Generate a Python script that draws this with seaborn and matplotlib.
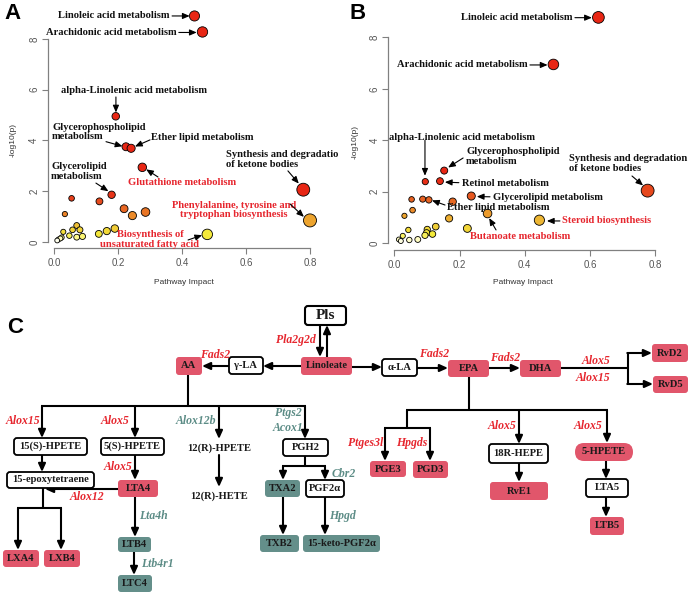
import numpy as np
import pandas as pd
import matplotlib
matplotlib.use("Agg")
import matplotlib.pyplot as plt
import seaborn as sns
from matplotlib.colors import LinearSegmentedColormap
from matplotlib.patches import FancyBboxPatch

# ---------------- data ----------------
A_impact = [0.439, 0.464, 0.193, 0.225, 0.241, 0.276, 0.779, 0.800, 0.479, 0.180,
            0.055, 0.142, 0.219, 0.286, 0.245, 0.034, 0.190, 0.165, 0.140, 0.071,
            0.081, 0.058, 0.048, 0.071, 0.089, 0.029, 0.024, 0.014, 0.020, 0.010]
A_logp = [8.90, 8.27, 4.95, 3.75, 3.69, 2.94, 2.06, 0.85, 0.30, 1.86,
          1.72, 1.60, 1.31, 1.18, 1.04, 1.10, 0.53, 0.43, 0.32, 0.65,
          0.48, 0.48, 0.25, 0.19, 0.22, 0.40, 0.18, 0.10, 0.14, 0.06]

B_impact = [0.626, 0.488, 0.777, 0.153, 0.095, 0.140, 0.236, 0.106, 0.087, 0.179,
            0.053, 0.056, 0.031, 0.286, 0.445, 0.168, 0.224, 0.127, 0.101, 0.099,
            0.117, 0.094, 0.043, 0.026, 0.014, 0.046, 0.072, 0.020]
B_logp = [8.78, 6.95, 2.04, 2.82, 2.39, 2.41, 1.83, 1.68, 1.71, 1.61,
          1.70, 1.28, 1.06, 1.15, 0.89, 0.96, 0.57, 0.64, 0.53, 0.40,
          0.35, 0.30, 0.51, 0.28, 0.14, 0.12, 0.14, 0.08]

x_ticks = [0.0, 0.2, 0.4, 0.6, 0.8]
x_ticklabels = ["0.0", "0.2", "0.4", "0.6", "0.8"]
y_ticks = [0, 2, 4, 6, 8]
y_ticklabels = ["0", "2", "4", "6", "8"]

RED_T = "#E6262E"
TEAL_T = "#5C8C86"
RED_BOX = "#E1566B"
TEAL_BOX = "#648F8A"

# annotations: label, text xy, ha, color, arrow start, arrow end (data coords)
A_notes = [
    ("Linoleic acid metabolism", (0.3625, 8.90), "right", "k", (0.369, 8.90), (0.424, 8.90)),
    ("Arachidonic acid metabolism", (0.384, 8.25), "right", "k", (0.390, 8.25), (0.446, 8.25)),
    ("alpha-Linolenic acid metabolism", (0.250, 5.98), "center", "k", (0.1935, 5.71), (0.1935, 5.10)),
    ("Glycerophospholipid\nmetabolism", (-0.006, 4.33), "left", "k", (0.1625, 3.95), (0.214, 3.77)),
    ("Ether lipid metabolism", (0.303, 4.13), "left", "k", (0.300, 4.02), (0.253, 3.76)),
    ("Glutathione metabolism", (0.231, 2.36), "left", "r", (0.325, 2.56), (0.288, 2.86)),
    ("Glycerolipid\nmetabolism", (-0.009, 2.78), "left", "k", (0.131, 2.32), (0.170, 2.00)),
    ("Synthesis and degradatio\nof ketone bodies", (0.5375, 3.25), "left", "k", (0.731, 2.80), (0.765, 2.30)),
    ("Phenylalanine, tyrosine and\ntryptophan biosynthesis", (0.5625, 1.26), "center", "r", (0.7375, 1.50), (0.781, 0.99)),
    ("Biosynthesis of\nunsaturated fatty acid", (0.300, 0.10), "center", "r", (0.419, 0.08), (0.463, 0.27)),
]
B_notes = [
    ("Linoleic acid metabolism", (0.548, 8.77), "right", "k", (0.554, 8.77), (0.606, 8.77)),
    ("Arachidonic acid metabolism", (0.410, 6.93), "right", "k", (0.416, 6.93), (0.470, 6.93)),
    ("alpha-Linolenic acid metabolism", (0.2077, 4.12), "center", "k", (0.094, 4.00), (0.094, 2.62)),
    ("Glycerophospholipid\nmetabolism", (0.220, 3.37), "left", "k", (0.211, 3.31), (0.165, 2.94)),
    ("Retinol metabolism", (0.2077, 2.33), "left", "k", (0.198, 2.35), (0.155, 2.37)),
    ("Glycerolipid metabolism", (0.3027, 1.79), "left", "k", (0.2935, 1.80), (0.253, 1.81)),
    ("Ether lipid metabolism", (0.1616, 1.40), "left", "k", (0.1555, 1.48), (0.1156, 1.66)),
    ("Butanoate metabolism", (0.232, 0.27), "left", "r", (0.312, 0.51), (0.291, 0.97)),
    ("Steroid biosynthesis", (0.5144, 0.86), "left", "r", (0.508, 0.86), (0.468, 0.86)),
    ("Synthesis and degradation\nof ketone bodies", (0.5359, 3.09), "left", "k", (0.729, 2.61), (0.763, 2.24)),
]

# ---------------- figure ----------------
sns.set_theme(style="white")
plt.rcParams["font.family"] = ["Liberation Sans", "DejaVu Sans"]
W, H = 691, 594
fig = plt.figure(figsize=(6.91, 5.94), dpi=100)
fig.patch.set_facecolor("white")

def axes_px(x0, y0, x1, y1):
    return fig.add_axes([x0 / W, 1 - y1 / H, (x1 - x0) / W, (y1 - y0) / H])

# diagram canvas (pixel coordinates)
axd = fig.add_axes([0, 0, 1, 1])
axd.set_xlim(0, W)
axd.set_ylim(H, 0)
axd.axis("off")

heat = LinearSegmentedColormap.from_list(
    "heat", [(0.0, "#FFFFF2"), (0.06, "#FFFBA0"), (0.12, "#F4EA3A"), (0.30, "#EEC035"),
             (0.45, "#EC9A2C"), (0.60, "#E87024"), (0.80, "#E64A1E"), (1.0, "#E82614")])

SERIF = ["Liberation Serif", "DejaVu Serif"]

def scatter_panel(ax, imp, lp, hue_norm, xlim, ylim, notes):
    df = pd.DataFrame({"impact": imp, "logp": lp})
    sns.scatterplot(data=df, x="impact", y="logp", hue="logp", size="impact",
                    palette=heat, hue_norm=hue_norm, sizes=(11, 88), size_norm=(0, 0.8),
                    edgecolor="black", linewidth=0.6, legend=False, ax=ax,
                    clip_on=False, zorder=3)
    ax.set_xlim(*xlim)
    ax.set_ylim(*ylim)
    ax.patch.set_alpha(0)
    for s in ["top", "right"]:
        ax.spines[s].set_visible(False)
    ax.spines["left"].set_bounds(0, 8)
    ax.spines["bottom"].set_bounds(0, 0.8)
    for s in ["left", "bottom"]:
        ax.spines[s].set_color("#808080")
        ax.spines[s].set_linewidth(0.9)
    ax.set_xticks(x_ticks)
    ax.set_xticklabels(x_ticklabels)
    ax.set_yticks(y_ticks)
    ax.set_yticklabels(y_ticklabels, rotation=90, va="center")
    ax.tick_params(axis="both", direction="out", length=4, width=0.8, color="#808080",
                   labelcolor="#555555", labelsize=7, left=True, bottom=True)
    ax.tick_params(axis="y", pad=2)
    ax.tick_params(axis="x", pad=3)
    ax.set_xlabel("")
    ax.set_ylabel("")
    for label, txy, ha, col, a0, a1 in notes:
        ax.text(txy[0], txy[1], label, ha=ha, va="center", fontsize=7.6, fontweight="bold",
                family=SERIF, color=(RED_T if col == "r" else "#111111"),
                linespacing=1.05, clip_on=False, zorder=5)
        ax.annotate("", xy=a1, xytext=a0,
                    arrowprops=dict(arrowstyle="-|>,head_length=0.35,head_width=0.15",
                                    color="black", lw=0.8, shrinkA=0, shrinkB=0),
                    annotation_clip=False, zorder=5)

axA = axes_px(47.6, 5.8, 322.8, 248.1)
scatter_panel(axA, A_impact, A_logp, (0.05, 2.0), (-0.02, 0.84), (-0.24, 9.3), A_notes)
axB = axes_px(387.8, 4.05, 674.7, 250.0)
scatter_panel(axB, B_impact, B_logp, (0.05, 2.5), (-0.02, 0.86), (-0.27, 9.3), B_notes)

# axis titles
for xc, yc in [(184, 283), (523, 283)]:
    fig.text(xc / W, 1 - yc / H, "Pathway Impact", ha="center", va="center",
             fontsize=6, color="#333333")
for xc, yc in [(13, 140), (355, 142)]:
    fig.text(xc / W, 1 - yc / H, "-log10(p)", ha="center", va="center", rotation=90,
             fontsize=6, color="#333333")

# panel letters
for lab, xc, yc in [("A", 4, 3), ("B", 349, 3), ("C", 7, 317)]:
    fig.text(xc / W, 1 - yc / H, lab, ha="left", va="top", fontsize=16,
             fontweight="bold", color="black")

# ---------------- pathway diagram ----------------
def box(x0, x1, y0, y1, label, kind, fs=7.6, pill=False, lw=1.3):
    if kind == "w":
        fc, ec, lww = "white", "black", lw
    elif kind == "r":
        fc, ec, lww = RED_BOX, "none", 0
    else:
        fc, ec, lww = TEAL_BOX, "none", 0
    rs = (y1 - y0) / 2 if pill else 3
    p = FancyBboxPatch((x0, y0), x1 - x0, y1 - y0,
                       boxstyle=f"round,pad=0,rounding_size={rs}",
                       fc=fc, ec=ec, lw=lww, zorder=3)
    axd.add_patch(p)
    axd.text((x0 + x1) / 2, (y0 + y1) / 2, label, ha="center", va="center",
             fontsize=fs, fontweight="bold", family=SERIF, color="#1a1a1a", zorder=4)

def plain(xc, yc, label, fs=7.6):
    axd.text(xc, yc, label, ha="center", va="center", fontsize=fs, fontweight="bold",
             family=SERIF, color="#1a1a1a", zorder=4)

def gene(xc, yc, label, col, fs=8.5):
    axd.text(xc, yc, label, ha="center", va="center", fontsize=fs, fontweight="bold",
             fontstyle="italic", family=SERIF, color=(RED_T if col == "r" else TEAL_T),
             zorder=4)

def line(xs, ys):
    axd.plot(xs, ys, color="black", lw=1.5, solid_capstyle="butt", zorder=2)

def arrow(x0, y0, x1, y1):
    axd.annotate("", xy=(x1, y1), xytext=(x0, y0),
                 arrowprops=dict(arrowstyle="-|>,head_length=0.4,head_width=0.18",
                                 color="black", lw=1.5, shrinkA=0, shrinkB=0), zorder=2)

# top row
box(305, 346, 306, 325, "Pls", "w", fs=11, lw=1.5)
box(301, 352, 357, 375, "Linoleate", "r")
box(229, 263, 357, 374, "\u03b3-LA", "w")
box(176, 202, 357, 375, "AA", "r")
box(382, 417, 359, 376, "\u03b1-LA", "w")
box(448, 489, 360, 377, "EPA", "r")
box(520, 561, 360, 377, "DHA", "r")
box(652, 688, 344, 362, "RvD2", "r")
box(653, 688, 376, 393, "RvD5", "r")

arrow(320, 325, 320, 357)
arrow(327, 357, 327, 325)
gene(296, 340, "Pla2g2d", "r")
arrow(301, 366, 263, 366)
arrow(229, 366, 202, 366)
gene(215, 355, "Fads2", "r")
arrow(352, 367, 382, 367)
arrow(417, 368, 448, 368)
gene(434, 354, "Fads2", "r")
arrow(489, 368, 520, 368)
gene(505, 358, "Fads2", "r")
line([561, 628], [368, 368])
line([628, 628], [353, 384])
arrow(627.3, 353, 652, 353)
arrow(627.3, 384, 653, 384)
gene(596, 361, "Alox5", "r")
gene(593, 378, "Alox15", "r")

# AA branch
line([188, 188], [375, 406])
line([41.3, 305.7], [406, 406])
arrow(42, 406, 42, 438)
arrow(135, 406, 135, 438)
arrow(219, 406, 219, 439)
arrow(305, 406, 305, 439)
gene(23, 421, "Alox15", "r")
gene(115, 421, "Alox5", "r")
gene(196, 421, "Alox12b", "t")
gene(288, 413, "Ptgs2", "t")
gene(288, 428, "Acox1", "t")

box(14, 87, 438, 455, "15(S)-HPETE", "w")
box(101, 164, 438, 455, "5(S)-HPETE", "w")
plain(219, 448, "12(R)-HPETE")
box(283, 328, 439, 456, "PGH2", "w")

arrow(42, 455, 42, 472)
box(7, 94, 472, 488, "15-epoxytetraene", "w")
arrow(135, 455, 135, 480)
gene(118, 467, "Alox5", "r")
box(118, 158, 480, 497, "LTA4", "r")
arrow(118, 489, 45, 489)
gene(87, 497, "Alox12", "r")
line([43, 43], [488, 508])
line([17.3, 61.7], [508, 508])
arrow(18, 508, 18, 550)
arrow(61, 508, 61, 550)
box(3, 39, 550, 567, "LXA4", "r")
box(44, 80, 550, 567, "LXB4", "r")
arrow(135, 497, 135, 537)
gene(153, 516, "Lta4h", "t")
box(118, 151, 537, 552, "LTB4", "t")
arrow(134, 552, 134, 575)
gene(157, 564, "Ltb4r1", "t")
box(118, 152, 575, 592, "LTC4", "t")

arrow(219, 455, 219, 487)
plain(219, 496, "12(R)-HETE")

line([305, 305], [456, 466])
line([282.3, 325.7], [466, 466])
arrow(283, 466, 283, 480)
arrow(325, 466, 325, 480)
gene(344, 474, "Cbr2", "t")
box(265, 300, 480, 497, "TXA2", "t")
box(306, 344, 480, 497, "PGF2\u03b1", "w")
arrow(283, 497, 283, 535)
arrow(325, 497, 325, 535)
gene(342, 516, "Hpgd", "t")
box(260, 299, 535, 552, "TXB2", "t")
box(303, 380, 535, 552, "15-keto-PGF2\u03b1", "t")

# EPA branch
line([469, 469], [377, 410])
line([406.3, 607.7], [410, 410])
line([407, 407], [410, 428])
line([384.3, 430.7], [428, 428])
arrow(385, 428, 385, 461)
arrow(430, 428, 430, 461)
gene(366, 443, "Ptges3l", "r")
gene(412, 443, "Hpgds", "r")
box(370, 406, 461, 477, "PGE3", "r")
box(413, 448, 461, 478, "PGD3", "r")
arrow(519, 410, 519, 444)
gene(502, 426, "Alox5", "r")
box(489, 548, 444, 463, "18R-HEPE", "w")
arrow(519, 463, 519, 482)
box(490, 548, 482, 500, "RvE1", "r")
arrow(607, 410, 607, 443)
gene(588, 426, "Alox5", "r")
box(575, 633, 443, 461, "5-HPETE", "r", pill=True)
arrow(606, 461, 606, 479)
box(586, 628, 479, 497, "LTA5", "w")
arrow(606, 497, 606, 517)
box(590, 624, 517, 535, "LTB5", "r")

fig.savefig("out.png", dpi=100, facecolor="white")
